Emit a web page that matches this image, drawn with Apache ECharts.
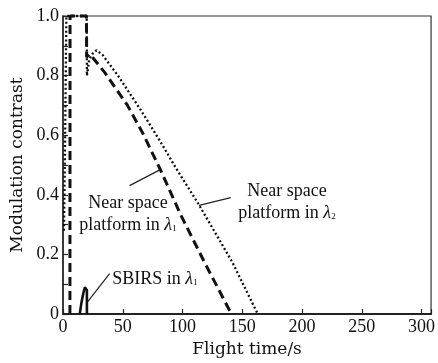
<!DOCTYPE html>
<html><head><meta charset="utf-8">
<script src="https://cdn.jsdelivr.net/npm/echarts@6/dist/echarts.min.js"></script>
<style>html,body{margin:0;padding:0;background:#fff}#c{width:438px;height:363px}</style>
</head><body><div id="c"></div>
<script>
// Near space platform in λ1 (dashed)
const dashT = [5.8, 5.9, 19.6, 19.8, 22, 25, 35, 54, 67, 82, 98.6, 119, 141];
const dashV = [0, 1.0, 1.0, 0.862, 0.872, 0.86, 0.81, 0.70, 0.605, 0.48, 0.332, 0.169, 0];
// Near space platform in λ2 (dotted)
const dotT = [0.8, 1.8, 2.8, 19.8, 20, 22, 25, 28, 33, 46, 65, 82, 93, 114, 141.6, 163];
const dotV = [0.28, 0.6, 1.0, 1.0, 0.80, 0.855, 0.875, 0.885, 0.87, 0.80, 0.685, 0.575, 0.5, 0.365, 0.175, 0];
// SBIRS in λ1 (solid)
const sbT = [14, 15.5, 17, 18.3, 19.2, 20, 20];
const sbV = [0, 0.04, 0.07, 0.09, 0.092, 0.08, 0];
// Axis ticks
const xTicks = [0, 50, 100, 150, 200, 250, 300];
const yTicks = [0, 0.2, 0.4, 0.6, 0.8, 1.0];
// Leader lines [t, v] pairs
const leadL1 = [[55.7, 0.431], [80.6, 0.483]];
const leadL2 = [[113.9, 0.365], [140.4, 0.391]];
const leadSB = [[19.9, 0.038], [39, 0.136]];

const zip = (a, b) => a.map((t, i) => [t, b[i]]);
const FONT = '"Liberation Serif", "Times New Roman", serif';
const TFONT = '"DejaVu Serif", serif';
const C = '#111';

const chart = echarts.init(document.getElementById('c'), null, {renderer: 'canvas'});
const lineStyleLead = {color: '#222', width: 1.2, type: 'solid'};
const leader = (pts) => ({
  type: 'line', data: pts, symbol: 'none', silent: true,
  lineStyle: lineStyleLead, z: 1, clip: false
});
chart.setOption({
  animation: false,
  grid: {left: 63, right: 4, top: 16, bottom: 41, show: true, borderColor: '#333', borderWidth: 1.2, containLabel: false},
  xAxis: {
    type: 'value', min: 0, max: 308, interval: 50,
    name: 'Flight time/s', nameLocation: 'middle', nameGap: 22,
    nameTextStyle: {fontFamily: TFONT, fontSize: 17, color: '#111'},
    axisLine: {show: true, onZero: false, lineStyle: {color: '#222', width: 2}},
    axisTick: {show: true, inside: true, length: 5, lineStyle: {color: '#222', width: 1.2}},
    axisLabel: {fontFamily: FONT, fontSize: 18, color: '#111', margin: 4,
      formatter: v => xTicks.includes(v) ? String(v) : ''},
    splitLine: {show: false}
  },
  yAxis: {
    type: 'value', min: 0, max: 1, interval: 0.2,
    name: 'Modulation contrast', nameLocation: 'middle', nameGap: 35,
    nameTextStyle: {fontFamily: TFONT, fontSize: 17, color: '#111'},
    axisLine: {show: true, lineStyle: {color: '#222', width: 1.5}},
    axisTick: {show: true, inside: true, length: 5, lineStyle: {color: '#222', width: 1.2}},
    minorTick: {show: true, splitNumber: 2, length: 5, lineStyle: {color: '#222', width: 1.2}},
    axisLabel: {fontFamily: FONT, fontSize: 18, color: '#111', margin: 4,
      formatter: v => yTicks.some(t => Math.abs(t - v) < 1e-9) ? (v === 0 ? '0' : v.toFixed(1)) : ''},
    splitLine: {show: false}
  },
  series: [
    {type: 'line', name: 'Near space platform in λ2', data: zip(dotT, dotV), symbol: 'none', clip: false,
      lineStyle: {color: C, width: 2.3, type: [2, 2.4]}},
    {type: 'line', name: 'Near space platform in λ1', data: zip(dashT, dashV), symbol: 'none', clip: false,
      lineStyle: {color: C, width: 3, type: [9, 5]}},
    {type: 'line', name: 'SBIRS in λ1', data: zip(sbT, sbV), symbol: 'none', clip: false,
      lineStyle: {color: C, width: 2.6, type: 'solid'}},
    leader(leadL1), leader(leadL2), leader(leadSB)
  ],
  graphic: [
    {type: 'text', x: 128, y: 203, style: {text: 'Near space', font: '18px ' + FONT, fill: '#111', align: 'center', verticalAlign: 'middle'}},
    {type: 'text', x: 128, y: 225, style: {text: 'platform in {l|λ}{s|1}', font: '18px ' + FONT, fill: '#111', align: 'center', verticalAlign: 'middle',
      rich: {l: {font: 'italic 18px ' + FONT, fill: '#111'}, s: {font: '9px ' + FONT, fill: '#111', padding: [8, 0, 0, 0]}}}},
    {type: 'text', x: 287, y: 191, style: {text: 'Near space', font: '18px ' + FONT, fill: '#111', align: 'center', verticalAlign: 'middle'}},
    {type: 'text', x: 287, y: 213, style: {text: 'platform in {l|λ}{s|2}', font: '18px ' + FONT, fill: '#111', align: 'center', verticalAlign: 'middle',
      rich: {l: {font: 'italic 18px ' + FONT, fill: '#111'}, s: {font: '9px ' + FONT, fill: '#111', padding: [8, 0, 0, 0]}}}},
    {type: 'text', x: 155, y: 279, style: {text: 'SBIRS in {l|λ}{s|1}', font: '18px ' + FONT, fill: '#111', align: 'center', verticalAlign: 'middle',
      rich: {l: {font: 'italic 18px ' + FONT, fill: '#111'}, s: {font: '9px ' + FONT, fill: '#111', padding: [8, 0, 0, 0]}}}}
  ]
});
</script></body></html>
